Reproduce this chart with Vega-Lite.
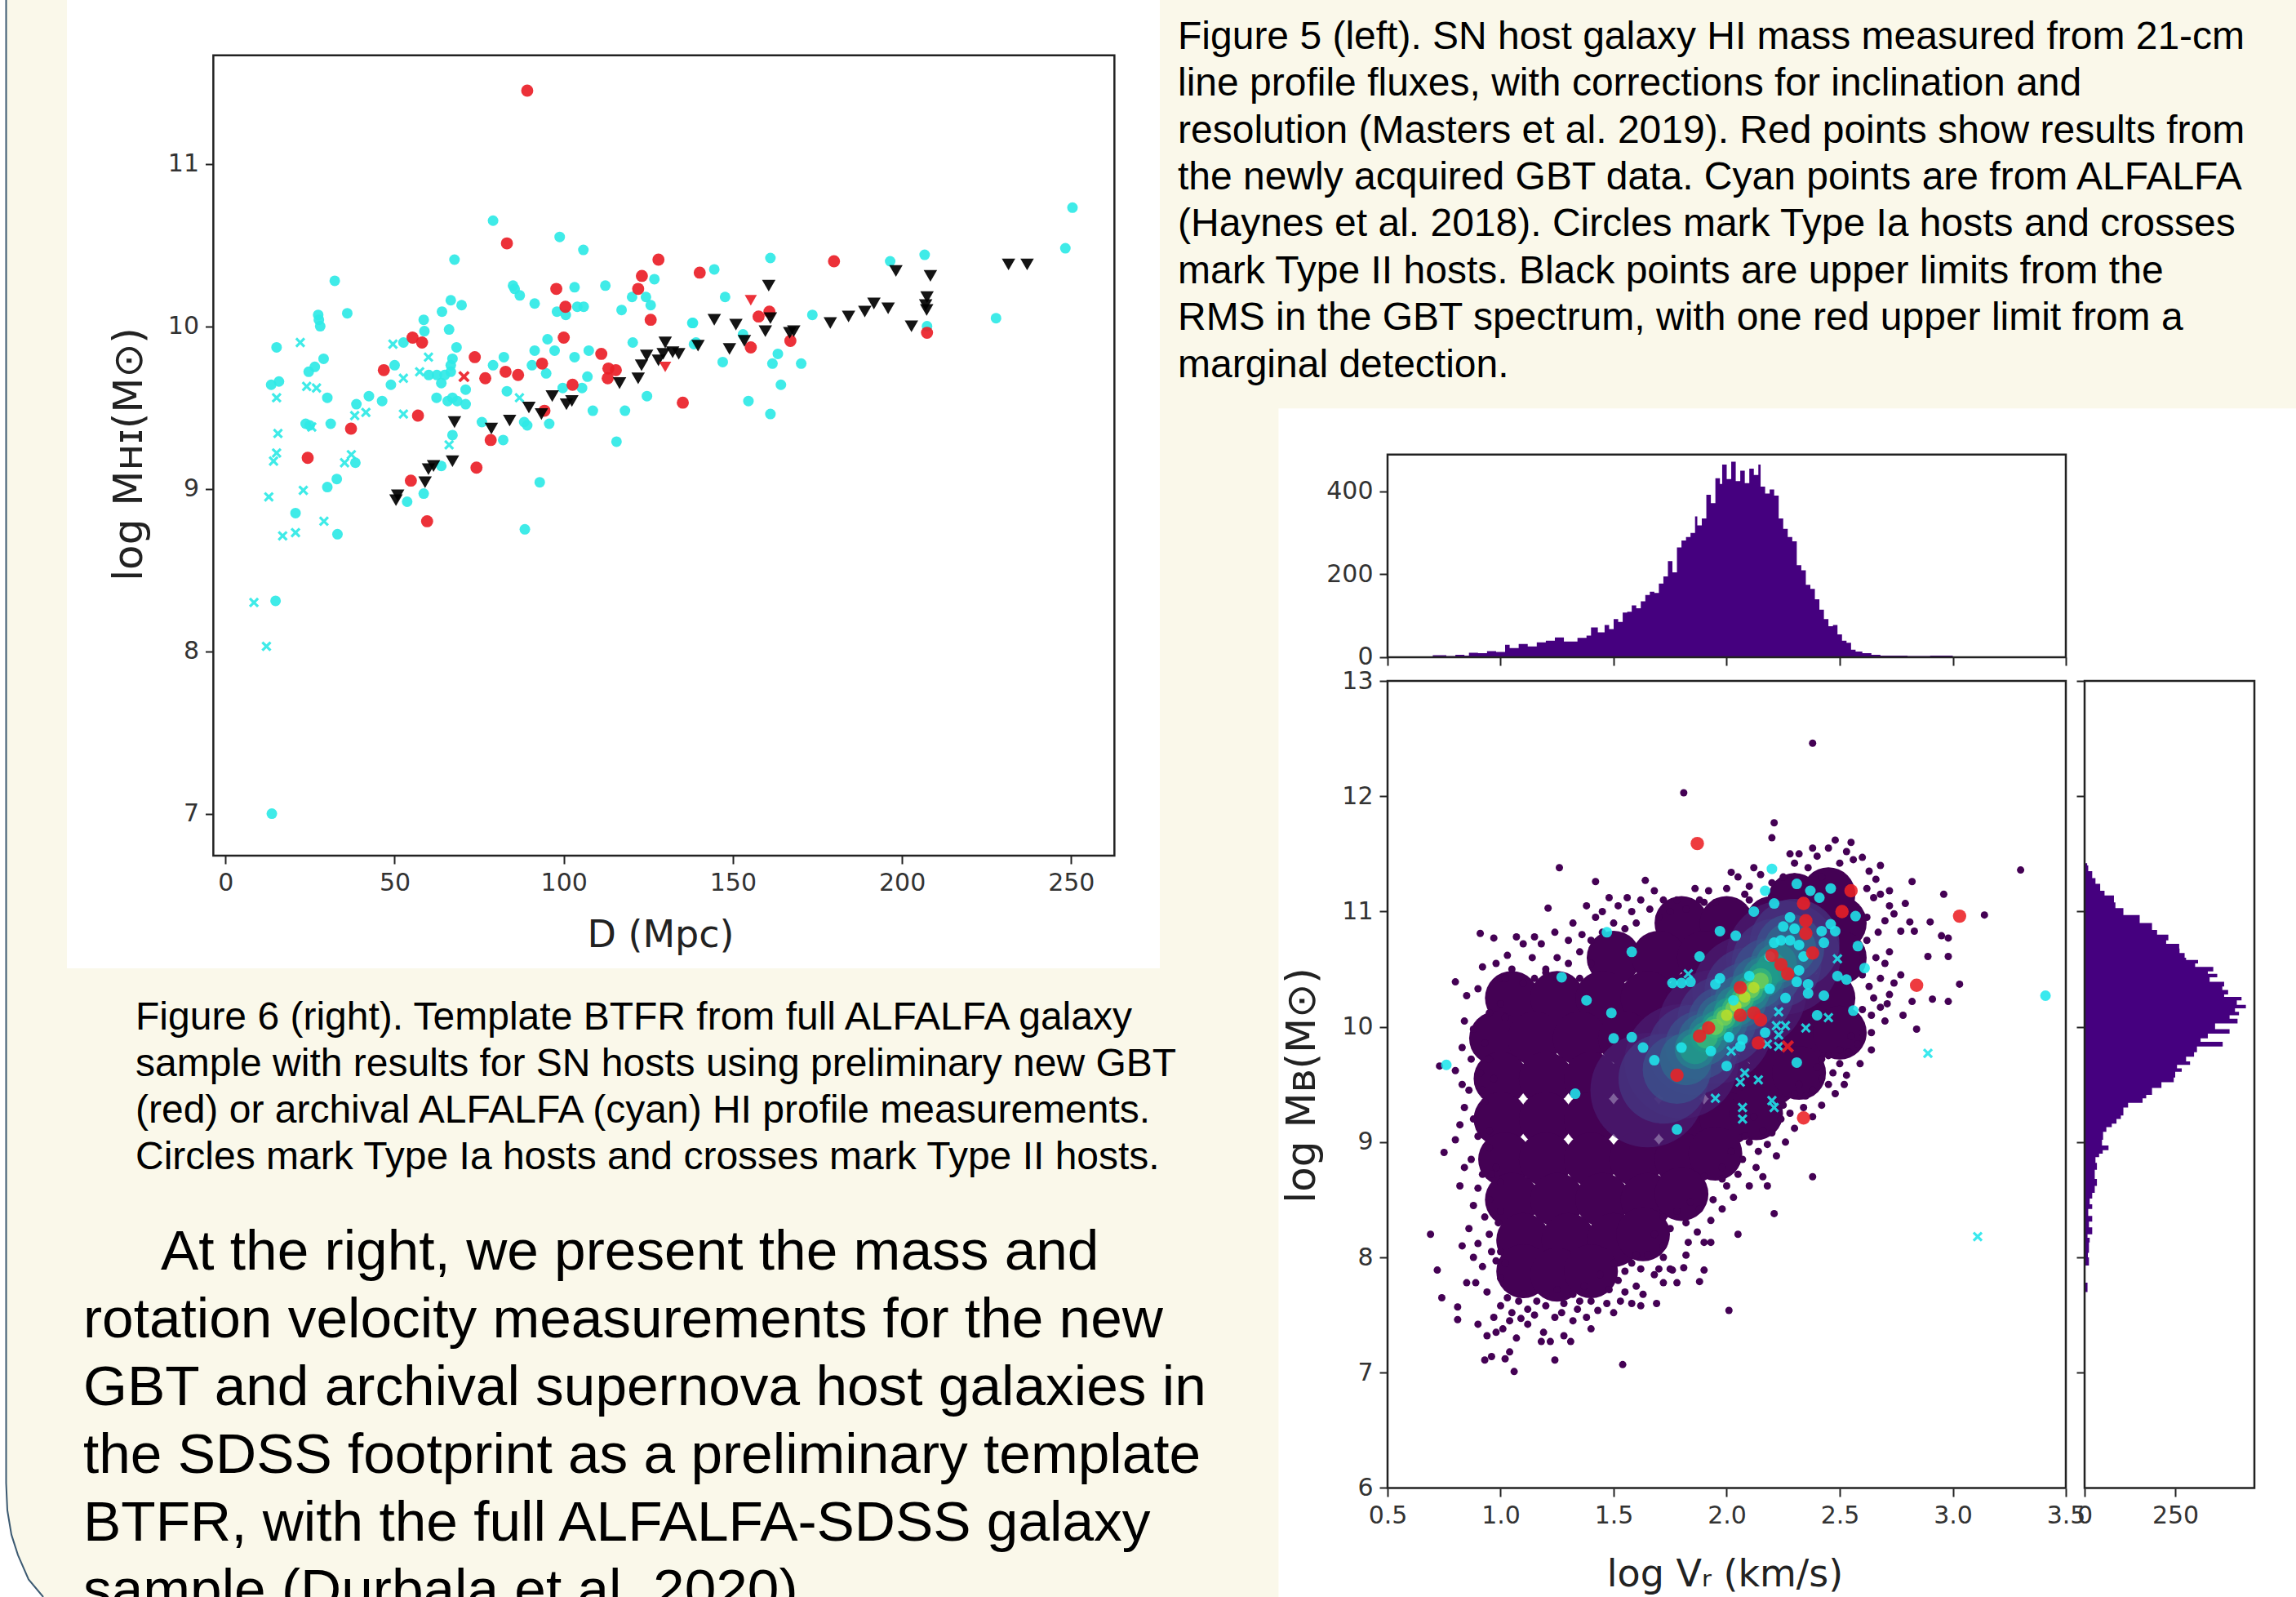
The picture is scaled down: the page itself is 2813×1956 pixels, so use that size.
{"$schema":"https://vega.github.io/schema/vega-lite/v6.json","background":"#faf8ea","padding":0,"autosize":{"type":"none"},"width":2813,"height":1956,
"config":{"view":{"stroke":null},"axis":{"grid":false,"domain":false,"tickColor":"#222","tickWidth":2,"tickSize":10,"labelFont":"DejaVu Sans","labelFontSize":30,"labelColor":"#333","labelPadding":8,"titleFont":"DejaVu Sans","titleFontWeight":"normal","titleColor":"#222","titleFontSize":46,"titleAlign":"center","titleBaseline":"middle"},"text":{"font":"Liberation Sans","align":"left","baseline":"middle","color":"#000"}},
"datasets":{
"left":[{"D":79.1,"M":10.65,"c":"A","k":"Ia"},{"D":98.8,"M":10.55,"c":"A","k":"Ia"},{"D":105.8,"M":10.47,"c":"A","k":"Ia"},{"D":67.7,"M":10.41,"c":"A","k":"Ia"},{"D":32.3,"M":10.28,"c":"A","k":"Ia"},{"D":36,"M":10.08,"c":"A","k":"Ia"},{"D":27.4,"M":10.07,"c":"A","k":"Ia"},{"D":27.6,"M":10.04,"c":"A","k":"Ia"},{"D":28,"M":10,"c":"A","k":"Ia"},{"D":15.1,"M":9.87,"c":"A","k":"Ia"},{"D":85,"M":10.25,"c":"A","k":"Ia"},{"D":85.5,"M":10.23,"c":"A","k":"Ia"},{"D":87,"M":10.19,"c":"A","k":"Ia"},{"D":91.4,"M":10.14,"c":"A","k":"Ia"},{"D":103.2,"M":10.24,"c":"A","k":"Ia"},{"D":112.3,"M":10.25,"c":"A","k":"Ia"},{"D":117.1,"M":10.1,"c":"A","k":"Ia"},{"D":126.8,"M":10.29,"c":"A","k":"Ia"},{"D":120.2,"M":10.18,"c":"A","k":"Ia"},{"D":124.3,"M":10.18,"c":"A","k":"Ia"},{"D":125.7,"M":10.13,"c":"A","k":"Ia"},{"D":98,"M":10.09,"c":"A","k":"Ia"},{"D":100.6,"M":10.07,"c":"A","k":"Ia"},{"D":104,"M":10.12,"c":"A","k":"Ia"},{"D":105.9,"M":10.12,"c":"A","k":"Ia"},{"D":66.6,"M":10.16,"c":"A","k":"Ia"},{"D":69.8,"M":10.13,"c":"A","k":"Ia"},{"D":64,"M":10.09,"c":"A","k":"Ia"},{"D":58.6,"M":10.04,"c":"A","k":"Ia"},{"D":66.1,"M":9.98,"c":"A","k":"Ia"},{"D":58.8,"M":9.97,"c":"A","k":"Ia"},{"D":52.6,"M":9.9,"c":"A","k":"Ia"},{"D":68.3,"M":9.87,"c":"A","k":"Ia"},{"D":95.2,"M":9.92,"c":"A","k":"Ia"},{"D":91.4,"M":9.85,"c":"A","k":"Ia"},{"D":97.3,"M":9.85,"c":"A","k":"Ia"},{"D":120.4,"M":9.9,"c":"A","k":"Ia"},{"D":138.2,"M":10.02,"c":"A","k":"Ia"},{"D":138.5,"M":9.89,"c":"A","k":"Ia"},{"D":107.4,"M":9.85,"c":"A","k":"Ia"},{"D":103.2,"M":9.81,"c":"A","k":"Ia"},{"D":82.3,"M":9.81,"c":"A","k":"Ia"},{"D":79.1,"M":9.76,"c":"A","k":"Ia"},{"D":90.6,"M":9.76,"c":"A","k":"Ia"},{"D":94.8,"M":9.71,"c":"A","k":"Ia"},{"D":67.1,"M":9.8,"c":"A","k":"Ia"},{"D":66.6,"M":9.76,"c":"A","k":"Ia"},{"D":66.6,"M":9.72,"c":"A","k":"Ia"},{"D":64.8,"M":9.7,"c":"A","k":"Ia"},{"D":62.5,"M":9.7,"c":"A","k":"Ia"},{"D":60.1,"M":9.7,"c":"A","k":"Ia"},{"D":63.8,"M":9.65,"c":"A","k":"Ia"},{"D":29,"M":9.8,"c":"A","k":"Ia"},{"D":26.4,"M":9.75,"c":"A","k":"Ia"},{"D":24.6,"M":9.72,"c":"A","k":"Ia"},{"D":50,"M":9.76,"c":"A","k":"Ia"},{"D":48.9,"M":9.64,"c":"A","k":"Ia"},{"D":15.8,"M":9.66,"c":"A","k":"Ia"},{"D":13.5,"M":9.64,"c":"A","k":"Ia"},{"D":30.1,"M":9.56,"c":"A","k":"Ia"},{"D":42.4,"M":9.57,"c":"A","k":"Ia"},{"D":46.3,"M":9.54,"c":"A","k":"Ia"},{"D":38.7,"M":9.52,"c":"A","k":"Ia"},{"D":62.4,"M":9.56,"c":"A","k":"Ia"},{"D":65.7,"M":9.54,"c":"A","k":"Ia"},{"D":67.1,"M":9.56,"c":"A","k":"Ia"},{"D":68.5,"M":9.54,"c":"A","k":"Ia"},{"D":71,"M":9.61,"c":"A","k":"Ia"},{"D":71,"M":9.52,"c":"A","k":"Ia"},{"D":83.2,"M":9.6,"c":"A","k":"Ia"},{"D":107,"M":9.69,"c":"A","k":"Ia"},{"D":99.7,"M":9.62,"c":"A","k":"Ia"},{"D":105.4,"M":9.62,"c":"A","k":"Ia"},{"D":124.6,"M":9.57,"c":"A","k":"Ia"},{"D":108.6,"M":9.48,"c":"A","k":"Ia"},{"D":118.1,"M":9.48,"c":"A","k":"Ia"},{"D":23.7,"M":9.4,"c":"A","k":"Ia"},{"D":24.9,"M":9.39,"c":"A","k":"Ia"},{"D":31.1,"M":9.4,"c":"A","k":"Ia"},{"D":75.8,"M":9.41,"c":"A","k":"Ia"},{"D":88.3,"M":9.41,"c":"A","k":"Ia"},{"D":89.2,"M":9.39,"c":"A","k":"Ia"},{"D":95.7,"M":9.4,"c":"A","k":"Ia"},{"D":67.1,"M":9.33,"c":"A","k":"Ia"},{"D":82.1,"M":9.3,"c":"A","k":"Ia"},{"D":115.6,"M":9.29,"c":"A","k":"Ia"},{"D":63.8,"M":9.14,"c":"A","k":"Ia"},{"D":38.4,"M":9.16,"c":"A","k":"Ia"},{"D":32.9,"M":9.06,"c":"A","k":"Ia"},{"D":30.1,"M":9.01,"c":"A","k":"Ia"},{"D":58.6,"M":8.97,"c":"A","k":"Ia"},{"D":53.7,"M":8.92,"c":"A","k":"Ia"},{"D":92.9,"M":9.04,"c":"A","k":"Ia"},{"D":20.7,"M":8.85,"c":"A","k":"Ia"},{"D":33.1,"M":8.72,"c":"A","k":"Ia"},{"D":14.8,"M":8.31,"c":"A","k":"Ia"},{"D":13.7,"M":7,"c":"A","k":"Ia"},{"D":88.5,"M":8.75,"c":"A","k":"Ia"},{"D":250.4,"M":10.73,"c":"A","k":"Ia"},{"D":248.3,"M":10.48,"c":"A","k":"Ia"},{"D":227.8,"M":10.05,"c":"A","k":"Ia"},{"D":206.7,"M":10.44,"c":"A","k":"Ia"},{"D":196.5,"M":10.4,"c":"A","k":"Ia"},{"D":161.1,"M":10.42,"c":"A","k":"Ia"},{"D":144.5,"M":10.35,"c":"A","k":"Ia"},{"D":147.7,"M":10.18,"c":"A","k":"Ia"},{"D":138,"M":10.02,"c":"A","k":"Ia"},{"D":173.5,"M":10.07,"c":"A","k":"Ia"},{"D":139.1,"M":9.9,"c":"A","k":"Ia"},{"D":153,"M":9.95,"c":"A","k":"Ia"},{"D":207.4,"M":10,"c":"A","k":"Ia"},{"D":147,"M":9.78,"c":"A","k":"Ia"},{"D":163.3,"M":9.83,"c":"A","k":"Ia"},{"D":161.7,"M":9.77,"c":"A","k":"Ia"},{"D":170.2,"M":9.77,"c":"A","k":"Ia"},{"D":164.2,"M":9.64,"c":"A","k":"Ia"},{"D":154.6,"M":9.54,"c":"A","k":"Ia"},{"D":161.1,"M":9.46,"c":"A","k":"Ia"},{"D":22.1,"M":9.9,"c":"A","k":"II"},{"D":49.5,"M":9.89,"c":"A","k":"II"},{"D":60,"M":9.81,"c":"A","k":"II"},{"D":57.4,"M":9.72,"c":"A","k":"II"},{"D":52.6,"M":9.68,"c":"A","k":"II"},{"D":24,"M":9.63,"c":"A","k":"II"},{"D":26.9,"M":9.62,"c":"A","k":"II"},{"D":15.1,"M":9.56,"c":"A","k":"II"},{"D":52.6,"M":9.46,"c":"A","k":"II"},{"D":41.5,"M":9.47,"c":"A","k":"II"},{"D":38.2,"M":9.45,"c":"A","k":"II"},{"D":25.5,"M":9.38,"c":"A","k":"II"},{"D":15.5,"M":9.34,"c":"A","k":"II"},{"D":15.1,"M":9.22,"c":"A","k":"II"},{"D":14.2,"M":9.17,"c":"A","k":"II"},{"D":35.2,"M":9.16,"c":"A","k":"II"},{"D":37.2,"M":9.21,"c":"A","k":"II"},{"D":66.1,"M":9.27,"c":"A","k":"II"},{"D":86.9,"M":9.56,"c":"A","k":"II"},{"D":23,"M":8.99,"c":"A","k":"II"},{"D":12.8,"M":8.95,"c":"A","k":"II"},{"D":29.1,"M":8.8,"c":"A","k":"II"},{"D":20.7,"M":8.73,"c":"A","k":"II"},{"D":16.9,"M":8.71,"c":"A","k":"II"},{"D":8.4,"M":8.3,"c":"A","k":"II"},{"D":12.1,"M":8.03,"c":"A","k":"II"},
{"D":89.2,"M":11.45,"c":"G","k":"Ia"},{"D":83.2,"M":10.51,"c":"G","k":"Ia"},{"D":128,"M":10.41,"c":"G","k":"Ia"},{"D":123.1,"M":10.31,"c":"G","k":"Ia"},{"D":122,"M":10.23,"c":"G","k":"Ia"},{"D":97.8,"M":10.23,"c":"G","k":"Ia"},{"D":100.5,"M":10.12,"c":"G","k":"Ia"},{"D":125.7,"M":10.04,"c":"G","k":"Ia"},{"D":100,"M":9.93,"c":"G","k":"Ia"},{"D":55.3,"M":9.93,"c":"G","k":"Ia"},{"D":58.1,"M":9.9,"c":"G","k":"Ia"},{"D":73.7,"M":9.81,"c":"G","k":"Ia"},{"D":46.8,"M":9.73,"c":"G","k":"Ia"},{"D":76.8,"M":9.68,"c":"G","k":"Ia"},{"D":82.8,"M":9.72,"c":"G","k":"Ia"},{"D":86.5,"M":9.7,"c":"G","k":"Ia"},{"D":93.6,"M":9.77,"c":"G","k":"Ia"},{"D":111.1,"M":9.83,"c":"G","k":"Ia"},{"D":113.2,"M":9.74,"c":"G","k":"Ia"},{"D":115.4,"M":9.73,"c":"G","k":"Ia"},{"D":113,"M":9.68,"c":"G","k":"Ia"},{"D":102.6,"M":9.64,"c":"G","k":"Ia"},{"D":135.2,"M":9.53,"c":"G","k":"Ia"},{"D":94.3,"M":9.48,"c":"G","k":"Ia"},{"D":56.9,"M":9.45,"c":"G","k":"Ia"},{"D":37.1,"M":9.37,"c":"G","k":"Ia"},{"D":78.4,"M":9.3,"c":"G","k":"Ia"},{"D":24.3,"M":9.19,"c":"G","k":"Ia"},{"D":74.2,"M":9.13,"c":"G","k":"Ia"},{"D":54.8,"M":9.05,"c":"G","k":"Ia"},{"D":59.6,"M":8.8,"c":"G","k":"Ia"},{"D":140.2,"M":10.33,"c":"G","k":"Ia"},{"D":179.9,"M":10.4,"c":"G","k":"Ia"},{"D":157.6,"M":10.06,"c":"G","k":"Ia"},{"D":160.8,"M":10.09,"c":"G","k":"Ia"},{"D":155.3,"M":9.87,"c":"G","k":"Ia"},{"D":167,"M":9.91,"c":"G","k":"Ia"},{"D":207.4,"M":9.96,"c":"G","k":"Ia"},{"D":70.5,"M":9.69,"c":"G","k":"II"},{"D":155.3,"M":10.16,"c":"G","k":"UL"},
{"D":160.6,"M":10.25,"c":"R","k":"UL"},{"D":198.2,"M":10.34,"c":"R","k":"UL"},{"D":208.4,"M":10.31,"c":"R","k":"UL"},{"D":231.5,"M":10.38,"c":"R","k":"UL"},{"D":237,"M":10.38,"c":"R","k":"UL"},{"D":207.4,"M":10.18,"c":"R","k":"UL"},{"D":207,"M":10.13,"c":"R","k":"UL"},{"D":207.3,"M":10.1,"c":"R","k":"UL"},{"D":195.9,"M":10.11,"c":"R","k":"UL"},{"D":191.7,"M":10.14,"c":"R","k":"UL"},{"D":189,"M":10.09,"c":"R","k":"UL"},{"D":184.2,"M":10.06,"c":"R","k":"UL"},{"D":178.8,"M":10.02,"c":"R","k":"UL"},{"D":202.8,"M":10,"c":"R","k":"UL"},{"D":144.5,"M":10.04,"c":"R","k":"UL"},{"D":150.9,"M":10.01,"c":"R","k":"UL"},{"D":161.1,"M":10.05,"c":"R","k":"UL"},{"D":159.6,"M":9.97,"c":"R","k":"UL"},{"D":168,"M":9.97,"c":"R","k":"UL"},{"D":166.8,"M":9.96,"c":"R","k":"UL"},{"D":153.4,"M":9.91,"c":"R","k":"UL"},{"D":149,"M":9.86,"c":"R","k":"UL"},{"D":139.7,"M":9.88,"c":"R","k":"UL"},{"D":134,"M":9.83,"c":"R","k":"UL"},{"D":132.2,"M":9.84,"c":"R","k":"UL"},{"D":130,"M":9.9,"c":"R","k":"UL"},{"D":129.4,"M":9.83,"c":"R","k":"UL"},{"D":124.5,"M":9.82,"c":"R","k":"UL"},{"D":123,"M":9.76,"c":"R","k":"UL"},{"D":122,"M":9.68,"c":"R","k":"UL"},{"D":128,"M":9.79,"c":"R","k":"UL"},{"D":116.5,"M":9.65,"c":"R","k":"UL"},{"D":102.4,"M":9.54,"c":"R","k":"UL"},{"D":100.8,"M":9.52,"c":"R","k":"UL"},{"D":89.7,"M":9.5,"c":"R","k":"UL"},{"D":93.4,"M":9.46,"c":"R","k":"UL"},{"D":96.6,"M":9.57,"c":"R","k":"UL"},{"D":84,"M":9.42,"c":"R","k":"UL"},{"D":78.6,"M":9.37,"c":"R","k":"UL"},{"D":67.7,"M":9.41,"c":"R","k":"UL"},{"D":67.1,"M":9.17,"c":"R","k":"UL"},{"D":61.5,"M":9.14,"c":"R","k":"UL"},{"D":60,"M":9.12,"c":"R","k":"UL"},{"D":59,"M":9.04,"c":"R","k":"UL"},{"D":50.9,"M":8.96,"c":"R","k":"UL"},{"D":50.4,"M":8.93,"c":"R","k":"UL"},{"D":130,"M":9.75,"c":"G","k":"UL"}],
"sn":[{"V":2.2,"M":11.37,"c":"A","k":"Ia"},{"V":2.17,"M":11.18,"c":"A","k":"Ia"},{"V":2.21,"M":11.07,"c":"A","k":"Ia"},{"V":2.31,"M":11.24,"c":"A","k":"Ia"},{"V":2.46,"M":11.2,"c":"A","k":"Ia"},{"V":2.37,"M":11.18,"c":"A","k":"Ia"},{"V":2.41,"M":11.12,"c":"A","k":"Ia"},{"V":2.12,"M":11,"c":"A","k":"Ia"},{"V":2.57,"M":10.96,"c":"A","k":"Ia"},{"V":1.47,"M":10.82,"c":"A","k":"Ia"},{"V":1.97,"M":10.83,"c":"A","k":"Ia"},{"V":2.04,"M":10.79,"c":"A","k":"Ia"},{"V":1.58,"M":10.65,"c":"A","k":"Ia"},{"V":1.88,"M":10.61,"c":"A","k":"Ia"},{"V":2.58,"M":10.7,"c":"A","k":"Ia"},{"V":2.61,"M":10.51,"c":"A","k":"Ia"},{"V":1.27,"M":10.43,"c":"A","k":"Ia"},{"V":1.76,"M":10.38,"c":"A","k":"Ia"},{"V":1.8,"M":10.38,"c":"A","k":"Ia"},{"V":1.84,"M":10.39,"c":"A","k":"Ia"},{"V":1.95,"M":10.37,"c":"A","k":"Ia"},{"V":1.97,"M":10.42,"c":"A","k":"Ia"},{"V":1.38,"M":10.23,"c":"A","k":"Ia"},{"V":1.49,"M":10.12,"c":"A","k":"Ia"},{"V":1.5,"M":9.9,"c":"A","k":"Ia"},{"V":1.58,"M":9.91,"c":"A","k":"Ia"},{"V":1.63,"M":9.82,"c":"A","k":"Ia"},{"V":1.68,"M":9.71,"c":"A","k":"Ia"},{"V":1.8,"M":9.82,"c":"A","k":"Ia"},{"V":0.76,"M":9.67,"c":"A","k":"Ia"},{"V":1.33,"M":9.42,"c":"A","k":"Ia"},{"V":1.78,"M":9.11,"c":"A","k":"Ia"},{"V":1.93,"M":9.79,"c":"A","k":"Ia"},{"V":2,"M":9.66,"c":"A","k":"Ia"},{"V":2.31,"M":9.69,"c":"A","k":"Ia"},{"V":2.56,"M":10.14,"c":"A","k":"Ia"},{"V":2.4,"M":10.1,"c":"A","k":"Ia"},{"V":2.43,"M":10.27,"c":"A","k":"Ia"},{"V":2.49,"M":10.44,"c":"A","k":"Ia"},{"V":2.53,"M":10.41,"c":"A","k":"Ia"},{"V":2.36,"M":10.37,"c":"A","k":"Ia"},{"V":2.36,"M":10.29,"c":"A","k":"Ia"},{"V":3.41,"M":10.27,"c":"A","k":"Ia"},{"V":2.28,"M":10.95,"c":"A","k":"Ia"},{"V":2.25,"M":10.87,"c":"A","k":"Ia"},{"V":2.3,"M":10.85,"c":"A","k":"Ia"},{"V":2.24,"M":10.75,"c":"A","k":"Ia"},{"V":2.28,"M":10.75,"c":"A","k":"Ia"},{"V":2.32,"M":10.71,"c":"A","k":"Ia"},{"V":2.21,"M":10.73,"c":"A","k":"Ia"},{"V":2.19,"M":10.61,"c":"A","k":"Ia"},{"V":2.34,"M":10.61,"c":"A","k":"Ia"},{"V":2.32,"M":10.49,"c":"A","k":"Ia"},{"V":2.31,"M":10.39,"c":"A","k":"Ia"},{"V":2.1,"M":10.44,"c":"A","k":"Ia"},{"V":2.19,"M":10.33,"c":"A","k":"Ia"},{"V":2.26,"M":10.25,"c":"A","k":"Ia"},{"V":2.03,"M":10.23,"c":"A","k":"Ia"},{"V":2.01,"M":9.91,"c":"A","k":"Ia"},{"V":2.07,"M":9.89,"c":"A","k":"Ia"},{"V":2.06,"M":9.83,"c":"A","k":"Ia"},{"V":2.17,"M":9.95,"c":"A","k":"Ia"},{"V":2.46,"M":10.89,"c":"A","k":"Ia"},{"V":2.42,"M":10.83,"c":"A","k":"Ia"},{"V":2.48,"M":10.83,"c":"A","k":"Ia"},{"V":2.43,"M":10.73,"c":"A","k":"Ia"},{"V":1.83,"M":10.46,"c":"A","k":"II"},{"V":2.49,"M":10.59,"c":"A","k":"II"},{"V":2.45,"M":10.08,"c":"A","k":"II"},{"V":2.35,"M":9.99,"c":"A","k":"II"},{"V":2.23,"M":10.13,"c":"A","k":"II"},{"V":2.22,"M":10.01,"c":"A","k":"II"},{"V":2.26,"M":10.01,"c":"A","k":"II"},{"V":2.23,"M":9.93,"c":"A","k":"II"},{"V":2.18,"M":9.85,"c":"A","k":"II"},{"V":2.23,"M":9.83,"c":"A","k":"II"},{"V":2.02,"M":9.79,"c":"A","k":"II"},{"V":2.08,"M":9.6,"c":"A","k":"II"},{"V":2.06,"M":9.52,"c":"A","k":"II"},{"V":2.14,"M":9.54,"c":"A","k":"II"},{"V":1.95,"M":9.38,"c":"A","k":"II"},{"V":2.07,"M":9.3,"c":"A","k":"II"},{"V":2.07,"M":9.2,"c":"A","k":"II"},{"V":2.2,"M":9.36,"c":"A","k":"II"},{"V":2.21,"M":9.3,"c":"A","k":"II"},{"V":2.89,"M":9.77,"c":"A","k":"II"},{"V":3.11,"M":8.18,"c":"A","k":"II"},
{"V":1.87,"M":11.59,"c":"G","k":"Ia"},{"V":3.03,"M":10.96,"c":"G","k":"Ia"},{"V":2.55,"M":11.18,"c":"G","k":"Ia"},{"V":2.34,"M":11.07,"c":"G","k":"Ia"},{"V":2.51,"M":11,"c":"G","k":"Ia"},{"V":2.35,"M":10.92,"c":"G","k":"Ia"},{"V":2.35,"M":10.81,"c":"G","k":"Ia"},{"V":2.38,"M":10.64,"c":"G","k":"Ia"},{"V":2.2,"M":10.62,"c":"G","k":"Ia"},{"V":2.24,"M":10.54,"c":"G","k":"Ia"},{"V":2.27,"M":10.46,"c":"G","k":"Ia"},{"V":2.06,"M":10.34,"c":"G","k":"Ia"},{"V":2.84,"M":10.36,"c":"G","k":"Ia"},{"V":2.06,"M":10.1,"c":"G","k":"Ia"},{"V":2.12,"M":10.12,"c":"G","k":"Ia"},{"V":2.15,"M":10.06,"c":"G","k":"Ia"},{"V":1.92,"M":9.99,"c":"G","k":"Ia"},{"V":1.88,"M":9.92,"c":"G","k":"Ia"},{"V":2.14,"M":9.86,"c":"G","k":"Ia"},{"V":1.78,"M":9.58,"c":"G","k":"Ia"},{"V":2.34,"M":9.21,"c":"G","k":"Ia"},{"V":2.27,"M":9.83,"c":"G","k":"II"}],
"dots":[{"x":2.38,"y":12.46},{"x":1.81,"y":12.03},{"x":2.21,"y":11.77},{"x":2.2,"y":11.64},{"x":1.26,"y":11.38},{"x":3.3,"y":11.36},{"x":1.42,"y":11.26},{"x":1.64,"y":11.27},{"x":1.21,"y":11.03},{"x":3.14,"y":10.97},{"x":2.96,"y":11.15},{"x":2.82,"y":11.26},{"x":2.9,"y":10.91},{"x":0.91,"y":10.81},{"x":0.97,"y":10.77},{"x":0.8,"y":10.39},{"x":0.73,"y":9.66},{"x":0.69,"y":8.2},{"x":0.75,"y":8.91},{"x":0.72,"y":7.89},{"x":0.74,"y":7.65},{"x":0.81,"y":7.57},{"x":0.81,"y":7.46},{"x":0.93,"y":7.11},{"x":0.96,"y":7.14},{"x":1.02,"y":7.12},{"x":1.04,"y":7.18},{"x":1.06,"y":7.01},{"x":1.24,"y":7.11},{"x":1.54,"y":7.07},{"x":0.94,"y":7.32},{"x":0.98,"y":7.35},{"x":1.04,"y":7.45},{"x":1.09,"y":7.47},{"x":1.19,"y":7.35},{"x":1.18,"y":7.27},{"x":1.22,"y":7.27},{"x":1.28,"y":7.32},{"x":1.31,"y":7.27},{"x":1.32,"y":7.45},{"x":1.4,"y":7.38},{"x":1.43,"y":7.54},{"x":1.69,"y":7.6},{"x":2.01,"y":7.54},{"x":2.38,"y":8.7},{"x":2.21,"y":8.38},{"x":2.05,"y":8.2},{"x":1.88,"y":7.79},{"x":1.9,"y":7.89},{"x":1.81,"y":7.91},{"x":1.76,"y":7.89},{"x":1.9,"y":8.13},{"x":1.93,"y":8.13},{"x":1.83,"y":8.13},{"x":2.18,"y":8.62},{"x":2.16,"y":8.7},{"x":2.52,"y":9.5},{"x":2.84,"y":9.98},{"x":2.98,"y":10.22},{"x":2.91,"y":10.24},{"x":3.03,"y":10.37},{"x":2.71,"y":10.2},{"x":2.68,"y":10.17},{"x":2.77,"y":10.45},{"x":2.89,"y":10.61},{"x":2.98,"y":10.61},{"x":2.95,"y":10.79},{"x":2.98,"y":10.77},{"x":2.83,"y":10.83},{"x":2.77,"y":10.83},{"x":2.81,"y":10.91},{"x":2.79,"y":11.07},{"x":2.72,"y":11.18},{"x":2.59,"y":9.68},{"x":2.64,"y":9.8},{"x":2.64,"y":9.95},
{"x":0.85,"y":10.27},{"x":0.9,"y":10.33},{"x":0.95,"y":10.12},{"x":1,"y":10.2},{"x":0.88,"y":9.98},{"x":0.93,"y":9.86},{"x":0.87,"y":9.72},{"x":0.91,"y":9.6},{"x":0.86,"y":9.45},{"x":0.83,"y":9.5},{"x":0.84,"y":9.3},{"x":0.88,"y":9.2},{"x":0.93,"y":9.35},{"x":0.97,"y":9.55},{"x":0.9,"y":9.05},{"x":0.95,"y":8.95},{"x":0.87,"y":8.85},{"x":0.92,"y":8.72},{"x":0.98,"y":8.78},{"x":0.9,"y":8.6},{"x":0.95,"y":8.5},{"x":0.88,"y":8.45},{"x":0.93,"y":8.35},{"x":0.99,"y":8.3},{"x":0.86,"y":8.25},{"x":0.9,"y":8.12},{"x":0.96,"y":8.05},{"x":0.88,"y":8},{"x":0.92,"y":7.92},{"x":0.98,"y":7.97},{"x":0.89,"y":7.78},{"x":0.94,"y":7.7},{"x":1,"y":7.82},{"x":1.03,"y":7.65},{"x":0.85,"y":7.78},{"x":0.83,"y":8.1},{"x":1.05,"y":10.5},{"x":1.1,"y":10.38},{"x":1.14,"y":10.6},{"x":1.18,"y":10.72},{"x":1.2,"y":10.47},{"x":1.25,"y":10.6},{"x":1.03,"y":10.62},{"x":1,"y":10.42},{"x":1.07,"y":10.78},{"x":1.15,"y":10.78},{"x":1.3,"y":10.55},{"x":1.3,"y":10.75},{"x":1.36,"y":10.8},{"x":1.32,"y":10.9},{"x":1.35,"y":10.65},{"x":1.42,"y":10.95},{"x":1.45,"y":11},{"x":1.4,"y":10.75},{"x":1.5,"y":10.9},{"x":1.55,"y":10.85},{"x":1.52,"y":11.05},{"x":1.48,"y":11.12},{"x":1.58,"y":11},{"x":1.62,"y":11.1},{"x":1.68,"y":11.18},{"x":1.72,"y":11.1},{"x":1.75,"y":11},{"x":1.78,"y":11.1},{"x":1.82,"y":11.02},{"x":1.88,"y":11.1},{"x":1.92,"y":11.18},{"x":1.95,"y":11.08},{"x":2,"y":11.2},{"x":2.05,"y":11.3},{"x":2.08,"y":11.15},{"x":2.1,"y":11.22},{"x":2.15,"y":11.32},{"x":2.2,"y":11.25},{"x":2.25,"y":11.3},{"x":2.3,"y":11.42},{"x":2.32,"y":11.5},{"x":2.36,"y":11.38},{"x":2.4,"y":11.48},{"x":2.42,"y":11.3},{"x":2.45,"y":11.55},{"x":2.48,"y":11.62},{"x":2.5,"y":11.42},{"x":2.53,"y":11.52},{"x":2.56,"y":11.45},{"x":2.6,"y":11.47},{"x":2.63,"y":11.35},{"x":2.66,"y":11.28},{"x":2.68,"y":11.15},{"x":2.72,"y":11.05},{"x":2.65,"y":11.12},{"x":2.62,"y":10.95},{"x":2.67,"y":10.82},{"x":2.7,"y":10.92},{"x":2.72,"y":10.65},{"x":2.7,"y":10.55},{"x":2.66,"y":10.6},{"x":2.68,"y":10.42},{"x":2.74,"y":10.38},{"x":2.72,"y":10.28},{"x":2.65,"y":10.25},{"x":2.7,"y":10.05},{"x":2.64,"y":10.1},{"x":2.6,"y":9.95},{"x":2.58,"y":9.85},{"x":2.54,"y":9.78},{"x":2.5,"y":9.68},{"x":2.45,"y":9.75},{"x":2.47,"y":9.6},{"x":2.42,"y":9.55},{"x":2.38,"y":9.45},{"x":2.4,"y":9.65},{"x":2.35,"y":9.4},{"x":2.32,"y":9.5},{"x":2.28,"y":9.25},{"x":2.24,"y":9.2},{"x":2.2,"y":9.35},{"x":2.25,"y":9.32},{"x":2.16,"y":9.1},{"x":2.12,"y":9.22},{"x":2.1,"y":9},{"x":2.14,"y":8.92},{"x":2.18,"y":8.98},{"x":2.07,"y":8.85},{"x":2.02,"y":8.92},{"x":2.05,"y":8.72},{"x":2,"y":8.62},{"x":1.98,"y":8.78},{"x":1.94,"y":8.5},{"x":1.9,"y":8.58},{"x":1.88,"y":8.42},{"x":1.84,"y":8.48},{"x":1.82,"y":8.3},{"x":1.78,"y":8.4},{"x":1.75,"y":8.25},{"x":1.72,"y":8.1},{"x":1.68,"y":8.2},{"x":1.65,"y":8.02},{"x":1.68,"y":7.85},{"x":1.62,"y":7.9},{"x":1.58,"y":7.95},{"x":1.6,"y":7.75},{"x":1.52,"y":7.8},{"x":1.48,"y":7.72},{"x":1.44,"y":7.85},{"x":1.4,"y":7.62},{"x":1.37,"y":7.75},{"x":1.32,"y":7.68},{"x":1.28,"y":7.6},{"x":1.25,"y":7.72},{"x":1.2,"y":7.58},{"x":1.16,"y":7.62},{"x":1.12,"y":7.55},{"x":1.08,"y":7.62},{"x":1.05,"y":7.52},{"x":1,"y":7.58},{"x":1.1,"y":7.68},{"x":1.55,"y":7.7},{"x":1.58,"y":7.6},{"x":1.63,"y":7.68},{"x":1.75,"y":7.9},{"x":1.72,"y":8},{"x":1.35,"y":10.42},{"x":1.15,"y":10.42},{"x":2.6,"y":10.45},{"x":2.62,"y":10.75},{"x":2.56,"y":10.1},{"x":2.5,"y":9.8},{"x":2.42,"y":9.72},{"x":2.3,"y":9.42},{"x":2.2,"y":9.08},{"x":2.08,"y":9.05},{"x":1.98,"y":8.68},{"x":1.9,"y":8.7},{"x":1.72,"y":8.35},{"x":1.6,"y":8.02},{"x":1.55,"y":7.88},{"x":1.5,"y":7.95},{"x":1.35,"y":7.62},{"x":1.2,"y":7.68},{"x":1,"y":8.65},{"x":0.95,"y":8.2},{"x":0.95,"y":9.72},{"x":0.92,"y":9.45},{"x":0.95,"y":9.1},{"x":0.96,"y":8.72},{"x":1,"y":8.4},{"x":1,"y":8.05},{"x":1.02,"y":7.95},{"x":1.02,"y":10.08},{"x":1.02,"y":10.42},{"x":1.2,"y":10.5},{"x":1.25,"y":10.42},{"x":1.4,"y":10.55},{"x":1.45,"y":10.82},{"x":1.6,"y":10.9},{"x":1.7,"y":10.95},{"x":1.9,"y":11.08},{"x":2.1,"y":11.1},{"x":2.2,"y":11.12},{"x":2.3,"y":11.3},{"x":2.62,"y":11.2},{"x":2.6,"y":10.6},{"x":2.63,"y":10.35},{"x":2.6,"y":10.15},{"x":2.55,"y":9.92},{"x":2.45,"y":9.5},{"x":2.34,"y":9.3},{"x":0.9,"y":7.42},{"x":0.97,"y":7.48},{"x":1.01,"y":7.38},{"x":1.07,"y":7.3},{"x":1.12,"y":7.42},{"x":1.15,"y":7.5},{"x":1.24,"y":7.48},{"x":1.27,"y":7.52},{"x":1.34,"y":7.55},{"x":1.38,"y":7.48},{"x":1.47,"y":7.6},{"x":1.5,"y":7.52},{"x":1.53,"y":7.62},{"x":1.62,"y":7.58},{"x":1.72,"y":7.78},{"x":1.78,"y":7.78},{"x":1.7,"y":7.9},{"x":1.82,"y":8.02},{"x":1.87,"y":8.22},{"x":1.93,"y":8.32},{"x":1.98,"y":8.42},{"x":2.03,"y":8.52},{"x":2.1,"y":8.62},{"x":2.13,"y":8.78},{"x":2.22,"y":8.88},{"x":2.26,"y":9},{"x":2.3,"y":9.12},{"x":2.38,"y":9.22},{"x":2.42,"y":9.32},{"x":2.48,"y":9.42},{"x":2.53,"y":9.58},{"x":2.78,"y":10.1},{"x":2.82,"y":10.22},{"x":0.82,"y":8.62},{"x":0.84,"y":8.78},{"x":0.8,"y":9.02},{"x":0.82,"y":9.15},{"x":0.8,"y":9.62},{"x":0.83,"y":9.82},{"x":0.84,"y":10.05},{"x":0.92,"y":10.52},{"x":0.98,"y":10.55},{"x":1.1,"y":10.72},{"x":1.24,"y":10.82},{"x":1.38,"y":11.05},{"x":1.56,"y":11.12},{"x":1.66,"y":11.02},{"x":1.86,"y":11.2},{"x":2.02,"y":11.34},{"x":2.12,"y":11.38},{"x":2.28,"y":11.5},{"x":2.38,"y":11.55},{"x":2.55,"y":11.6},{"x":2.68,"y":11.4},{"x":2.74,"y":10.98}],
"base":[{"x":1.8,"y":10.9},{"x":2,"y":10.9},{"x":2.2,"y":10.9},{"x":2.4,"y":10.9},{"x":2.5,"y":10.9},{"x":2.3,"y":11.1},{"x":2.45,"y":11.15},{"x":1.5,"y":10.6},{"x":1.7,"y":10.6},{"x":1.9,"y":10.6},{"x":2.1,"y":10.6},{"x":2.3,"y":10.6},{"x":2.5,"y":10.6},{"x":1.05,"y":10.25},{"x":1.25,"y":10.25},{"x":1.45,"y":10.25},{"x":1.65,"y":10.25},{"x":1.85,"y":10.25},{"x":2.05,"y":10.25},{"x":2.25,"y":10.25},{"x":2.45,"y":10.25},{"x":0.98,"y":9.9},{"x":1.15,"y":9.9},{"x":1.35,"y":9.9},{"x":1.55,"y":9.9},{"x":1.75,"y":9.9},{"x":1.95,"y":9.9},{"x":2.15,"y":9.9},{"x":2.35,"y":9.9},{"x":2.5,"y":9.95},{"x":1,"y":9.55},{"x":1.2,"y":9.55},{"x":1.4,"y":9.55},{"x":1.6,"y":9.55},{"x":1.8,"y":9.55},{"x":2,"y":9.55},{"x":2.2,"y":9.55},{"x":2.32,"y":9.6},{"x":1,"y":9.2},{"x":1.2,"y":9.2},{"x":1.4,"y":9.2},{"x":1.6,"y":9.2},{"x":1.8,"y":9.2},{"x":2,"y":9.2},{"x":2.13,"y":9.25},{"x":1.02,"y":8.85},{"x":1.2,"y":8.85},{"x":1.4,"y":8.85},{"x":1.6,"y":8.85},{"x":1.8,"y":8.85},{"x":1.95,"y":8.9},{"x":1.05,"y":8.5},{"x":1.25,"y":8.5},{"x":1.45,"y":8.5},{"x":1.65,"y":8.5},{"x":1.8,"y":8.55},{"x":1.1,"y":8.15},{"x":1.3,"y":8.15},{"x":1.5,"y":8.15},{"x":1.63,"y":8.2},{"x":1.1,"y":7.88},{"x":1.25,"y":7.85},{"x":1.4,"y":7.88}],
"dens":[{"x":1.65,"y":9.45,"d":0.08},{"x":1.8,"y":9.7,"d":0.08},{"x":1.95,"y":10,"d":0.08},{"x":2.1,"y":10.3,"d":0.08},{"x":2.25,"y":10.6,"d":0.08},{"x":1.72,"y":9.55,"d":0.16},{"x":1.85,"y":9.8,"d":0.16},{"x":1.98,"y":10.05,"d":0.16},{"x":2.1,"y":10.3,"d":0.16},{"x":2.22,"y":10.55,"d":0.16},{"x":2.3,"y":10.72,"d":0.16},{"x":1.78,"y":9.63,"d":0.25},{"x":1.88,"y":9.84,"d":0.25},{"x":1.98,"y":10.05,"d":0.25},{"x":2.08,"y":10.26,"d":0.25},{"x":2.18,"y":10.47,"d":0.25},{"x":2.28,"y":10.68,"d":0.25},{"x":1.82,"y":9.72,"d":0.35},{"x":1.9,"y":9.89,"d":0.35},{"x":1.98,"y":10.06,"d":0.35},{"x":2.06,"y":10.22,"d":0.35},{"x":2.14,"y":10.39,"d":0.35},{"x":2.22,"y":10.55,"d":0.35},{"x":2.28,"y":10.68,"d":0.35},{"x":1.86,"y":9.81,"d":0.45},{"x":1.92,"y":9.93,"d":0.45},{"x":1.98,"y":10.06,"d":0.45},{"x":2.04,"y":10.18,"d":0.45},{"x":2.1,"y":10.3,"d":0.45},{"x":2.16,"y":10.43,"d":0.45},{"x":2.22,"y":10.55,"d":0.45},{"x":1.86,"y":9.81,"d":0.55},{"x":1.91,"y":9.91,"d":0.55},{"x":1.96,"y":10.01,"d":0.55},{"x":2.01,"y":10.12,"d":0.55},{"x":2.06,"y":10.22,"d":0.55},{"x":2.11,"y":10.32,"d":0.55},{"x":2.16,"y":10.43,"d":0.55},{"x":2.2,"y":10.51,"d":0.55},{"x":1.91,"y":9.91,"d":0.68},{"x":1.95,"y":10,"d":0.68},{"x":1.99,"y":10.08,"d":0.68},{"x":2.03,"y":10.16,"d":0.68},{"x":2.07,"y":10.24,"d":0.68},{"x":2.11,"y":10.32,"d":0.68},{"x":2.15,"y":10.41,"d":0.68},{"x":1.95,"y":10,"d":0.8},{"x":1.99,"y":10.08,"d":0.8},{"x":2.03,"y":10.16,"d":0.8},{"x":2.07,"y":10.24,"d":0.8},{"x":2.11,"y":10.32,"d":0.8},{"x":2.15,"y":10.4,"d":0.8},{"x":2,"y":10.1,"d":0.92},{"x":2.04,"y":10.18,"d":0.92},{"x":2.08,"y":10.26,"d":0.92},{"x":2.12,"y":10.34,"d":0.92}],
"histV":[{"x":0.6,"n":1},{"x":0.7,"n":5},{"x":0.76,"n":3},{"x":0.8,"n":6},{"x":0.84,"n":4},{"x":0.86,"n":11},{"x":0.9,"n":10},{"x":0.94,"n":15},{"x":0.98,"n":13},{"x":1.02,"n":30},{"x":1.04,"n":22},{"x":1.08,"n":32},{"x":1.12,"n":26},{"x":1.16,"n":36},{"x":1.2,"n":40},{"x":1.24,"n":48},{"x":1.28,"n":38},{"x":1.34,"n":47},{"x":1.38,"n":52},{"x":1.4,"n":72},{"x":1.43,"n":60},{"x":1.46,"n":78},{"x":1.48,"n":68},{"x":1.5,"n":92},{"x":1.52,"n":85},{"x":1.54,"n":108},{"x":1.56,"n":110},{"x":1.58,"n":125},{"x":1.6,"n":118},{"x":1.62,"n":135},{"x":1.64,"n":150},{"x":1.66,"n":158},{"x":1.68,"n":155},{"x":1.7,"n":178},{"x":1.72,"n":195},{"x":1.74,"n":232},{"x":1.76,"n":205},{"x":1.78,"n":265},{"x":1.8,"n":282},{"x":1.82,"n":290},{"x":1.84,"n":300},{"x":1.86,"n":340},{"x":1.87,"n":318},{"x":1.89,"n":335},{"x":1.91,"n":392},{"x":1.93,"n":372},{"x":1.95,"n":432},{"x":1.97,"n":418},{"x":1.98,"n":465},{"x":2,"n":430},{"x":2.02,"n":472},{"x":2.04,"n":425},{"x":2.06,"n":450},{"x":2.08,"n":420},{"x":2.1,"n":455},{"x":2.12,"n":440},{"x":2.14,"n":465},{"x":2.15,"n":412},{"x":2.17,"n":395},{"x":2.19,"n":405},{"x":2.21,"n":390},{"x":2.23,"n":335},{"x":2.25,"n":310},{"x":2.27,"n":290},{"x":2.29,"n":280},{"x":2.31,"n":222},{"x":2.33,"n":210},{"x":2.35,"n":175},{"x":2.37,"n":165},{"x":2.39,"n":140},{"x":2.41,"n":115},{"x":2.43,"n":92},{"x":2.45,"n":75},{"x":2.47,"n":78},{"x":2.49,"n":55},{"x":2.51,"n":40},{"x":2.53,"n":35},{"x":2.55,"n":18},{"x":2.57,"n":14},{"x":2.6,"n":10},{"x":2.64,"n":6},{"x":2.68,"n":4},{"x":2.8,"n":3},{"x":2.9,"n":4},{"x":3,"n":2},{"x":3.1,"n":2},{"x":3.2,"n":1},{"x":3.3,"n":2},{"x":3.32,"n":0}],
"histM":[{"y":7.7,"n":8},{"y":7.78,"n":1},{"y":7.86,"n":2},{"y":7.93,"n":12},{"y":8,"n":9},{"y":8.04,"n":12},{"y":8.13,"n":14},{"y":8.17,"n":8},{"y":8.2,"n":21},{"y":8.26,"n":12},{"y":8.31,"n":21},{"y":8.36,"n":10},{"y":8.42,"n":21},{"y":8.46,"n":14},{"y":8.51,"n":21},{"y":8.56,"n":28},{"y":8.62,"n":34},{"y":8.68,"n":28},{"y":8.76,"n":34},{"y":8.82,"n":30},{"y":8.87,"n":40},{"y":8.9,"n":50},{"y":8.93,"n":66},{"y":8.97,"n":48},{"y":9.02,"n":51},{"y":9.09,"n":60},{"y":9.13,"n":75},{"y":9.16,"n":88},{"y":9.2,"n":100},{"y":9.23,"n":107},{"y":9.3,"n":120},{"y":9.34,"n":160},{"y":9.38,"n":170},{"y":9.41,"n":186},{"y":9.47,"n":212},{"y":9.52,"n":246},{"y":9.56,"n":250},{"y":9.61,"n":268},{"y":9.64,"n":255},{"y":9.67,"n":291},{"y":9.7,"n":280},{"y":9.74,"n":302},{"y":9.78,"n":310},{"y":9.83,"n":381},{"y":9.87,"n":320},{"y":9.9,"n":340},{"y":9.94,"n":400},{"y":9.98,"n":360},{"y":10.03,"n":422},{"y":10.07,"n":400},{"y":10.1,"n":426},{"y":10.13,"n":415},{"y":10.16,"n":445},{"y":10.19,"n":420},{"y":10.23,"n":433},{"y":10.26,"n":385},{"y":10.28,"n":396},{"y":10.32,"n":380},{"y":10.35,"n":385},{"y":10.39,"n":345},{"y":10.43,"n":366},{"y":10.46,"n":340},{"y":10.48,"n":355},{"y":10.52,"n":305},{"y":10.55,"n":313},{"y":10.58,"n":280},{"y":10.6,"n":276},{"y":10.64,"n":262},{"y":10.68,"n":261},{"y":10.72,"n":225},{"y":10.75,"n":231},{"y":10.8,"n":200},{"y":10.84,"n":186},{"y":10.9,"n":152},{"y":10.97,"n":107},{"y":11.03,"n":85},{"y":11.08,"n":81},{"y":11.14,"n":55},{"y":11.18,"n":43},{"y":11.24,"n":30},{"y":11.29,"n":21},{"y":11.35,"n":10},{"y":11.4,"n":7},{"y":11.42,"n":0}],
"edge":[{"e":-94.5,"l":-17.49},{"e":-94.5,"l":4.4},{"e":-93,"l":4.8},{"e":-88,"l":5.16},{"e":-80,"l":5.46},{"e":-67,"l":5.82},{"e":-49,"l":6.08}]
},
"resolve":{"scale":{"x":"independent","y":"independent","color":"independent","size":"independent","shape":"independent"},"axis":{"x":"independent","y":"independent"}},
"layer":[
{"layer":[
{"data":{"name":"edge"},"mark":{"type":"area","orient":"horizontal","fill":"#fff"},"encoding":{"x":{"field":"e","type":"quantitative","scale":{"domain":[-102,2711],"nice":false},"axis":null},"x2":{"datum":-102},"y":{"field":"l","type":"quantitative","scale":{"domain":[-17.49,6.08],"reverse":true,"nice":false},"axis":null}}},
{"data":{"name":"edge"},"mark":{"type":"line","color":"#3c5a72","strokeWidth":2,"orient":"horizontal"},"encoding":{"x":{"field":"e","type":"quantitative"},"y":{"field":"l","type":"quantitative"},"order":{"field":"l"}}},
{"data":{"values":[{"line":1,"text":"At the right, we present the mass and"}]},"mark":{"type":"text","fontSize":69.4},"encoding":{"x":{"datum":95},"y":{"field":"line","type":"quantitative"},"text":{"field":"text"}}},
{"data":{"values":[{"line":2,"text":"rotation velocity measurements for the new"},{"line":3,"text":"GBT and archival supernova host galaxies in"},{"line":4,"text":"the SDSS footprint as a preliminary template"},{"line":5,"text":"BTFR, with the full ALFALFA-SDSS galaxy"},{"line":6,"text":"sample (Durbala et al. 2020)."}]},"mark":{"type":"text","fontSize":69.4},"encoding":{"x":{"datum":0},"y":{"field":"line","type":"quantitative"},"text":{"field":"text"}}}]},
{"data":{"values":[{"line":1,"text":"Figure 6 (right). Template BTFR from full ALFALFA galaxy"},{"line":2,"text":"sample with results for SN hosts using preliminary new GBT"},{"line":3,"text":"(red) or archival ALFALFA (cyan) HI profile measurements."},{"line":4,"text":"Circles mark Type Ia hosts and crosses mark Type II hosts."}]},"mark":{"type":"text","fontSize":48},"encoding":{"x":{"datum":0,"scale":{"domain":[-166,2647],"nice":false},"axis":null},"y":{"field":"line","type":"quantitative","scale":{"domain":[-20.87,13.44],"reverse":true,"nice":false},"axis":null},"text":{"field":"text"}}},
{"data":{"values":[{"line":1,"text":"Figure 5 (left). SN host galaxy HI mass measured from 21-cm"},{"line":2,"text":"line profile fluxes, with corrections for inclination and"},{"line":3,"text":"resolution (Masters et al. 2019). Red points show results from"},{"line":4,"text":"the newly acquired GBT data. Cyan points are from ALFALFA"},{"line":5,"text":"(Haynes et al. 2018). Circles mark Type Ia hosts and crosses"},{"line":6,"text":"mark Type II hosts. Black points are upper limits from the"},{"line":7,"text":"RMS in the GBT spectrum, with one red upper limit from a"},{"line":8,"text":"marginal detection."}]},"mark":{"type":"text","fontSize":48},"encoding":{"x":{"datum":0,"scale":{"domain":[-1443,1370],"nice":false},"axis":null},"y":{"field":"line","type":"quantitative","scale":{"domain":[0.2,34.28],"reverse":true,"nice":false},"axis":null},"text":{"field":"text"}}},
{"layer":[
{"data":{"values":[{}]},"mark":{"type":"rect","fill":"#fff"},"encoding":{"x":{"datum":-46.89,"scale":{"domain":[-66.67,612.13],"nice":false}},"x2":{"datum":276.23},"y":{"datum":6.048,"scale":{"domain":[2.179,12.008],"nice":false}},"y2":{"datum":12.008}}},
{"data":{"name":"left"},"mark":{"type":"point","filled":true,"opacity":0.92,"strokeWidth":0},"encoding":{
"x":{"field":"D","type":"quantitative","axis":{"orient":"bottom","offset":-908,"zindex":1,"values":[0,50,100,150,200,250],"format":"d","title":"D (Mpc)","titleX":809,"titleY":97}},
"y":{"field":"M","type":"quantitative","axis":{"orient":"left","offset":-261.5,"zindex":1,"values":[7,8,9,10,11],"format":"d","title":"log Mʜɪ(M⊙)","titleX":-103.5,"titleY":556,"titleFontSize":50}},
"color":{"field":"c","type":"nominal","scale":{"domain":["A","G","R"],"range":["#2fe9e6","#ea2028","#000"]},"legend":null},
"shape":{"field":"k","type":"nominal","scale":{"domain":["Ia","II","UL"],"range":["circle","M-.6,-.95L0,-.35L.6,-.95L.95,-.6L.35,0L.95,.6L.6,.95L0,.35L-.6,.95L-.95,.6L-.35,0L-.95,-.6Z","triangle-down"]},"legend":null},
"size":{"field":"c","type":"ordinal","scale":{"domain":["A","G","R"],"range":[169,272,225]},"legend":null}}},
{"data":{"values":[{}]},"mark":{"type":"rect","fill":null,"stroke":"#222","strokeWidth":2.5},"encoding":{"x":{"datum":-3.6},"x2":{"datum":262.8},"y":{"datum":6.742},"y2":{"datum":11.667}}}]},
{"layer":[
{"data":{"values":[{}]},"mark":{"type":"rect","fill":"#fff"},"encoding":{"x":{"datum":0.018,"scale":{"domain":[-5.637,4.518],"nice":false}},"x2":{"datum":4.518},"y":{"datum":-2268,"scale":{"domain":[-2268,1586.2],"nice":false}},"y2":{"datum":600.7}}},
{"data":{"name":"histV"},"mark":{"type":"area","interpolate":"step-after","color":"#45007f"},"encoding":{"x":{"field":"x","type":"quantitative","axis":{"orient":"bottom","offset":-1151,"zindex":1,"values":[0.5,1,1.5,2,2.5,3,3.5],"labels":false,"title":null}},"y":{"field":"n","type":"quantitative","stack":null,"axis":{"orient":"left","offset":-1700,"zindex":1,"values":[0,200,400],"format":"d","title":null}}}},
{"data":{"values":[{}]},"mark":{"type":"rect","fill":null,"stroke":"#222","strokeWidth":2.5},"encoding":{"x":{"datum":0.5},"x2":{"datum":3.5},"y":{"datum":0},"y2":{"datum":489}}}]},
{"resolve":{"scale":{"color":"independent","size":"independent","shape":"independent"}},"layer":[
{"data":{"name":"base"},"mark":{"type":"point","filled":true,"size":4356,"color":"#440154","opacity":1,"strokeWidth":0},"encoding":{"x":{"field":"x","type":"quantitative","scale":{"domain":[-5.637,4.518],"nice":false},"axis":{"orient":"bottom","offset":-133,"zindex":1,"values":[0.5,1,1.5,2,2.5,3,3.5],"format":".1f","title":"log Vᵣ (km/s)","titleX":2113,"titleY":105,"titleFontSize":46}},"y":{"field":"y","type":"quantitative","scale":{"domain":[5.054,18.907],"nice":false},"axis":{"orient":"left","offset":-1700,"zindex":1,"values":[6,7,8,9,10,11,12,13],"format":"d","title":"log Mʙ(M⊙)","titleX":-105,"titleY":1329,"titleFontSize":50}}}},
{"data":{"name":"dots"},"mark":{"type":"point","filled":true,"size":81,"color":"#440154","opacity":1,"strokeWidth":0},"encoding":{"x":{"field":"x","type":"quantitative"},"y":{"field":"y","type":"quantitative"}}},
{"data":{"name":"dens"},"mark":{"type":"point","filled":true,"opacity":0.7,"strokeWidth":0},"encoding":{"x":{"field":"x","type":"quantitative"},"y":{"field":"y","type":"quantitative"},"color":{"field":"d","type":"quantitative","scale":{"scheme":"viridis","domain":[0,1]},"legend":null},"size":{"field":"d","type":"quantitative","scale":{"type":"linear","domain":[0.08,0.16,0.25,0.35,0.45,0.55,0.68,0.8,0.92],"range":[19600,12100,7056,4096,2500,1444,784,400,196]},"legend":null}}},
{"data":{"name":"sn"},"mark":{"type":"point","filled":true,"opacity":0.88,"strokeWidth":0},"encoding":{"x":{"field":"V","type":"quantitative"},"y":{"field":"M","type":"quantitative"},"color":{"field":"c","type":"nominal","scale":{"domain":["A","G"],"range":["#1fe6ec","#ec2024"]},"legend":null},"shape":{"field":"k","type":"nominal","scale":{"domain":["Ia","II"],"range":["circle","M-.6,-.95L0,-.35L.6,-.95L.95,-.6L.35,0L.95,.6L.6,.95L0,.35L-.6,.95L-.95,.6L-.35,0L-.95,-.6Z"]},"legend":null},"size":{"field":"c","type":"ordinal","scale":{"domain":["A","G"],"range":[169,270]},"legend":null}}},
{"data":{"values":[{}]},"mark":{"type":"rect","fill":null,"stroke":"#222","strokeWidth":2.5},"encoding":{"x":{"datum":0.5},"x2":{"datum":3.5},"y":{"datum":6},"y2":{"datum":13}}}]},
{"layer":[
{"data":{"name":"histM"},"mark":{"type":"area","orient":"horizontal","interpolate":"step-after","color":"#45007f"},"encoding":{"x":{"field":"n","type":"quantitative","stack":null,"scale":{"domain":[-5752,583.3],"nice":false},"axis":{"orient":"bottom","offset":-133,"zindex":1,"values":[0,250],"format":"d","title":null}},"y":{"field":"y","type":"quantitative","scale":{"domain":[5.054,18.907],"nice":false},"axis":{"orient":"left","offset":-2554,"zindex":1,"values":[7,8,9,10,11,12,13],"labels":false,"title":null}}}},
{"data":{"values":[{}]},"mark":{"type":"rect","fill":null,"stroke":"#222","strokeWidth":2.5},"encoding":{"x":{"datum":0},"x2":{"datum":468.5},"y":{"datum":6},"y2":{"datum":13}}}]}
]}
